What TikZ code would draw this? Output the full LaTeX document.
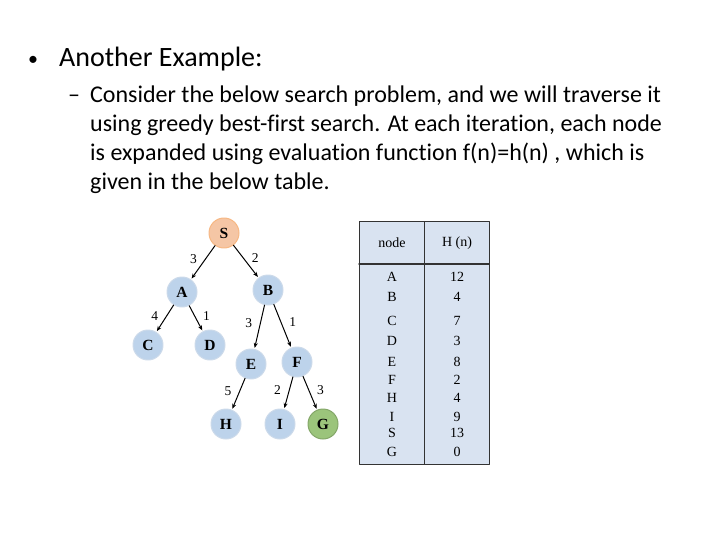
\documentclass[tikz,border=0pt]{standalone}
\usepackage{fontspec}
\setmainfont{Carlito}[Ligatures=NoCommon]
\newfontfamily\treefont{Liberation Serif}
\usetikzlibrary{arrows.meta,positioning}
\definecolor{nodeblue}{HTML}{BDD3EB}
\definecolor{nodeline}{HTML}{CCDAEA}
\definecolor{startfill}{HTML}{F5C6A5}
\definecolor{goalfill}{HTML}{9BC47B}
\definecolor{tablefill}{HTML}{D9E3F1}
\tikzset{
  every picture/.style={line join=round, line cap=round, >=Stealth},
  state/.style={circle, minimum size=30pt, inner sep=0pt, fill=nodeblue, draw=nodeline,
    line width=1pt, font=\treefont\fontsize{15.5}{15.5}\selectfont\bfseries},
  start/.style={state, fill=startfill, draw=startfill!80!orange},
  goal/.style={state, fill=goalfill, draw=goalfill!85!black},
  edge/.style={->, line width=1pt, >={Stealth[length=5pt,width=4pt]}, shorten >=1pt},
  cost/.style={font=\treefont\fontsize{13.5}{13.5}\selectfont, inner sep=1pt, pos=0.4},
  cell/.style={font=\treefont\fontsize{14}{14}\selectfont, inner sep=0pt},
  slide/.style={font=\fontsize{24}{28.7}\selectfont, inner sep=0pt},
}

\begin{document}
\begin{tikzpicture}[x=1pt,y=-1pt]
\useasboundingbox (0,0) rectangle (720,540);
% slide text
\node[slide, font=\fontsize{20}{24}\selectfont, anchor=base] (bul) at (33,66) {•};
\node[slide, font=\fontsize{28}{34}\selectfont, anchor=base west] (head) at (59,67) {Another Example:};
\node[slide, anchor=base] (dash) at (74,103) {–};
\node[slide, anchor=base west, align=left] (para) at (90,189.1)
  {Consider the below search problem, and we will traverse it\\
   using greedy best-first search. At each iteration, each node\\
   is expanded using evaluation function f(n)=h(n) , which is\\
   given in the below table.};
% search tree
\node[start] (S) at (224,233) {S};
\node[state] (A) at (182,292) {A};
\node[state] (B) at (268,290) {B};
\node[state] (C) at (148,345) {C};
\node[state] (D) at (210,345) {D};
\node[state] (E) at (251,364) {E};
\node[state] (F) at (297,362) {F};
\node[state] (H) at (226,424) {H};
\node[state] (I) at (280,424) {I};
\node[goal]  (G) at (323,424) {G};
\draw[edge] (S) -- node[cost, left=7pt]{3} (A);
\draw[edge] (S) -- node[cost, right=7pt]{2} (B);
\draw[edge] (A) -- node[cost, left=7pt]{4} (C);
\draw[edge] (A) -- node[cost, right=7pt]{1} (D);
\draw[edge] (B) -- node[cost, left=7pt]{3} (E);
\draw[edge] (B) -- node[cost, right=7pt]{1} (F);
\draw[edge] (E) -- node[cost, left=7pt]{5} (H);
\draw[edge] (F) -- node[cost, left=7pt]{2} (I);
\draw[edge] (F) -- node[cost, right=7pt]{3} (G);
% heuristic table
\fill[tablefill] (359,222) rectangle (489,464);
\draw[line width=1pt, black!80] (359,222) rectangle (489,464);
\draw[line width=1pt, black!80] (424,222) -- (424,464);
\draw[line width=1.4pt, black!80] (359,264) -- (489,264);
\node[cell] (hnode) at (392,243) {node};
\node[cell] (hval) at (457,243) {H (n)};
\foreach \nm/\hv/\yy in {A/12/277, B/4/297, C/7/321, D/3/341, E/8/362,
                         F/2/380, H/4/398, I/9/417, S/13/433, G/0/452}
  {\node[cell] (k\nm) at (392,\yy) {\nm};
   \node[cell] (v\nm) at (457,\yy) {\hv};}
\end{tikzpicture}
\end{document}
